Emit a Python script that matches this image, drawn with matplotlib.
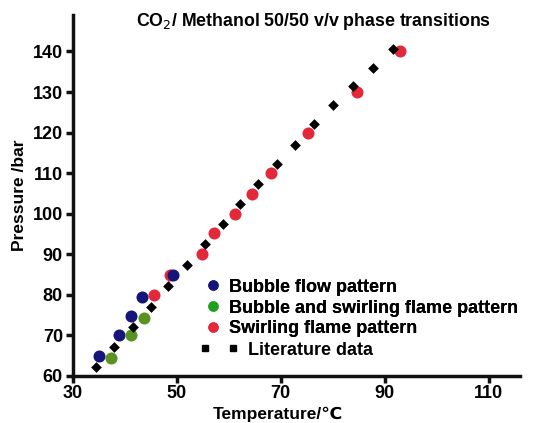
import matplotlib
matplotlib.use("Agg")
import matplotlib.pyplot as plt
from matplotlib.lines import Line2D

plt.rcParams['font.family'] = ['Liberation Sans', 'DejaVu Sans']

# Literature data (black diamonds)
lit_T = [34.4, 38.0, 41.6, 45.1, 48.4, 52.0, 55.4, 58.9, 62.2, 65.6, 69.2,
         72.8, 76.4, 80.0, 83.8, 87.7, 91.5]
lit_P = [62.2, 67.2, 72.0, 77.0, 82.1, 87.3, 92.4, 97.4, 102.3, 107.3, 112.2,
         117.0, 122.0, 126.8, 131.6, 136.0, 140.5]

# Swirling flame pattern
swirl_T = [45.7, 48.7, 54.8, 57.2, 61.3, 64.4, 68.2, 75.2, 84.7, 92.9]
swirl_P = [79.8, 84.9, 90.0, 95.1, 99.8, 104.9, 109.9, 120.0, 130.0, 140.2]

# Bubble flow pattern
bubble_T = [35.1, 39.0, 41.2, 43.3, 49.3]
bubble_P = [64.8, 70.0, 74.7, 79.5, 84.9]

# Bubble and swirling flame pattern
mixed_T = [37.4, 41.2, 43.7]
mixed_P = [64.4, 70.0, 74.2]

blue = "#15157a"
green = "#5a9222"
red = "#e3283a"

W, H = 540, 423
fig = plt.figure(figsize=(W / 100, H / 100), dpi=100)
ax = fig.add_axes([0.1346, 0.1118, 0.8284, 0.8527])

ax.scatter(swirl_T, swirl_P, s=75, color=red, zorder=3, linewidths=0)
ax.scatter(bubble_T, bubble_P, s=75, color=blue, zorder=4, linewidths=0)
ax.scatter(mixed_T, mixed_P, s=75, color=green, zorder=4, linewidths=0)
ax.scatter(lit_T, lit_P, s=30, marker='D', color='black', zorder=5, linewidths=0)

ax.set_xlim(30, 116)
ax.set_ylim(60, 149)
ax.set_xticks([30, 50, 70, 90, 110])
ax.set_yticks(range(60, 141, 10))

for side in ['top', 'right']:
    ax.spines[side].set_visible(False)
for side in ['left', 'bottom']:
    ax.spines[side].set_linewidth(2.5)
    ax.spines[side].set_color('#111111')
ax.tick_params(width=2.5, length=5, labelsize=13, color='#111111', pad=2)
for lab in ax.get_xticklabels() + ax.get_yticklabels():
    lab.set_fontweight('bold')

ax.set_xlabel("Temperature/\u2103", fontsize=12.5, fontweight='bold', va='center')
ax.xaxis.set_label_coords((278 - 72.7) / (520 - 72.7), -0.108)
ax.set_ylabel("Pressure /bar", fontsize=12.5, fontweight='bold', va='center')
ax.yaxis.set_label_coords(-0.12, 0.5)
fig.text(314 / W, 1 - 22 / H, "CO$_2$/ Methanol 50/50 v/v phase transitions",
         ha='center', va='center', fontsize=12.8, fontweight='bold')

fs = 13
lprop = {'size': fs, 'weight': 'bold'}
circ_handles = [
    Line2D([], [], marker='o', ls='none', color=blue, markersize=6.5),
    Line2D([], [], marker='o', ls='none', color='#1fa01f', markersize=6.5),
    Line2D([], [], marker='o', ls='none', color=red, markersize=6.5),
]
circ_labels = ["Bubble flow pattern", "Bubble and swirling flame pattern",
               "Swirling flame pattern"]
leg1 = fig.legend(circ_handles, circ_labels, loc='center left',
                  bbox_to_anchor=(206 / W, 1 - 308 / H),
                  frameon=False, prop=lprop, numpoints=1, handlelength=0.8,
                  handletextpad=0.45, labelspacing=0.22, borderpad=0,
                  borderaxespad=0)

lit_handle = Line2D([], [], marker='s', ls='none', color='black', markersize=4.5)
leg2 = fig.legend([lit_handle], ["Literature data"], loc='center left',
                  bbox_to_anchor=(200 / W, 1 - 350 / H),
                  frameon=False, prop=lprop, numpoints=2, handlelength=2.1,
                  handletextpad=0.55, borderpad=0, borderaxespad=0)
fig.add_artist(leg1)

fig.savefig("out.png", dpi=100)
